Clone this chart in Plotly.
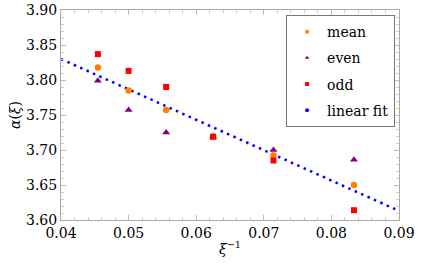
import plotly.graph_objects as go

xi_inv = [1/22, 1/20, 1/18, 1/16, 1/14, 1/12]
mean_vals = [3.818, 3.785, 3.757, 3.719, 3.692, 3.650]
even_vals = [3.799, 3.757, 3.725, 3.719, 3.700, 3.686]
odd_vals = [3.837, 3.813, 3.790, 3.719, 3.685, 3.614]
fit_x = [0.04, 0.09]
fit_y = [3.830, 3.613]

FONT = "DejaVu Serif"
FS = 14
fig = go.Figure()

fig.add_trace(go.Scatter(x=fit_x, y=fit_y, mode="lines", showlegend=False,
                         line=dict(color="#0000FF", width=2.5, dash="2.5px,4.5px")))
fig.add_trace(go.Scatter(x=xi_inv, y=mean_vals, mode="markers", name="mean", showlegend=False,
                         marker=dict(color="#FF8000", size=6.5, symbol="circle")))
fig.add_trace(go.Scatter(x=xi_inv, y=even_vals, mode="markers", name="even", showlegend=False,
                         marker=dict(color="#800080", size=7, symbol="triangle-up")))
fig.add_trace(go.Scatter(x=xi_inv, y=odd_vals, mode="markers", name="odd", showlegend=False,
                         marker=dict(color="#FF0000", size=6, symbol="square")))

for name, col, sym in [("mean", "#FF8000", "circle"), ("even", "#800080", "triangle-up"),
                       ("odd", "#FF0000", "square"), ("linear fit", "#0000FF", "circle")]:
    fig.add_trace(go.Scatter(x=[None], y=[None], mode="markers", name=name, legendgroup=name,
                             marker=dict(color=col, size=4, symbol=sym)))

axis_common = dict(showline=True, linecolor="#aaaaaa", linewidth=1, mirror="ticks",
                   ticks="inside", ticklen=5, tickcolor="#bbbbbb", showgrid=False, zeroline=False,
                   automargin=False,
                   tickfont=dict(family=FONT, size=FS, color="black"))
fig.update_xaxes(range=[0.04, 0.09], tickvals=[0.04, 0.05, 0.06, 0.07, 0.08, 0.09],
                 ticktext=["0.04", "0.05", "0.06", "0.07", "0.08", "0.09"],
                 minor=dict(ticks="inside", ticklen=3, tickcolor="#cccccc", dtick=0.002, showgrid=False),
                 title=dict(text="<i>ξ</i><sup>−1</sup>", font=dict(family=FONT, size=FS, color="black"),
                            standoff=4),
                 **axis_common)
fig.update_yaxes(range=[3.60, 3.90], tickvals=[3.60, 3.65, 3.70, 3.75, 3.80, 3.85, 3.90],
                 ticktext=["3.60", "3.65", "3.70", "3.75", "3.80", "3.85", "3.90"],
                 minor=dict(ticks="inside", ticklen=3, tickcolor="#cccccc", dtick=0.01, showgrid=False),
                 title=dict(text="<i>α</i>(<i>ξ</i>)", font=dict(family=FONT, size=FS, color="black"),
                            standoff=2),
                 **axis_common)

fig.update_layout(
    width=436, height=273,
    margin=dict(l=61, r=37, t=10, b=53),
    font=dict(family=FONT, size=FS, color="black"),
    paper_bgcolor="white", plot_bgcolor="white",
    legend=dict(x=0.666, y=0.976, xanchor="left", yanchor="top",
                bordercolor="#777777", borderwidth=1, bgcolor="white",
                font=dict(family=FONT, size=FS, color="black"),
                itemwidth=30, tracegroupgap=5),
)

fig.write_html("out.html", config={"displayModeBar": False},
               post_script="document.body.style.margin='0';")
